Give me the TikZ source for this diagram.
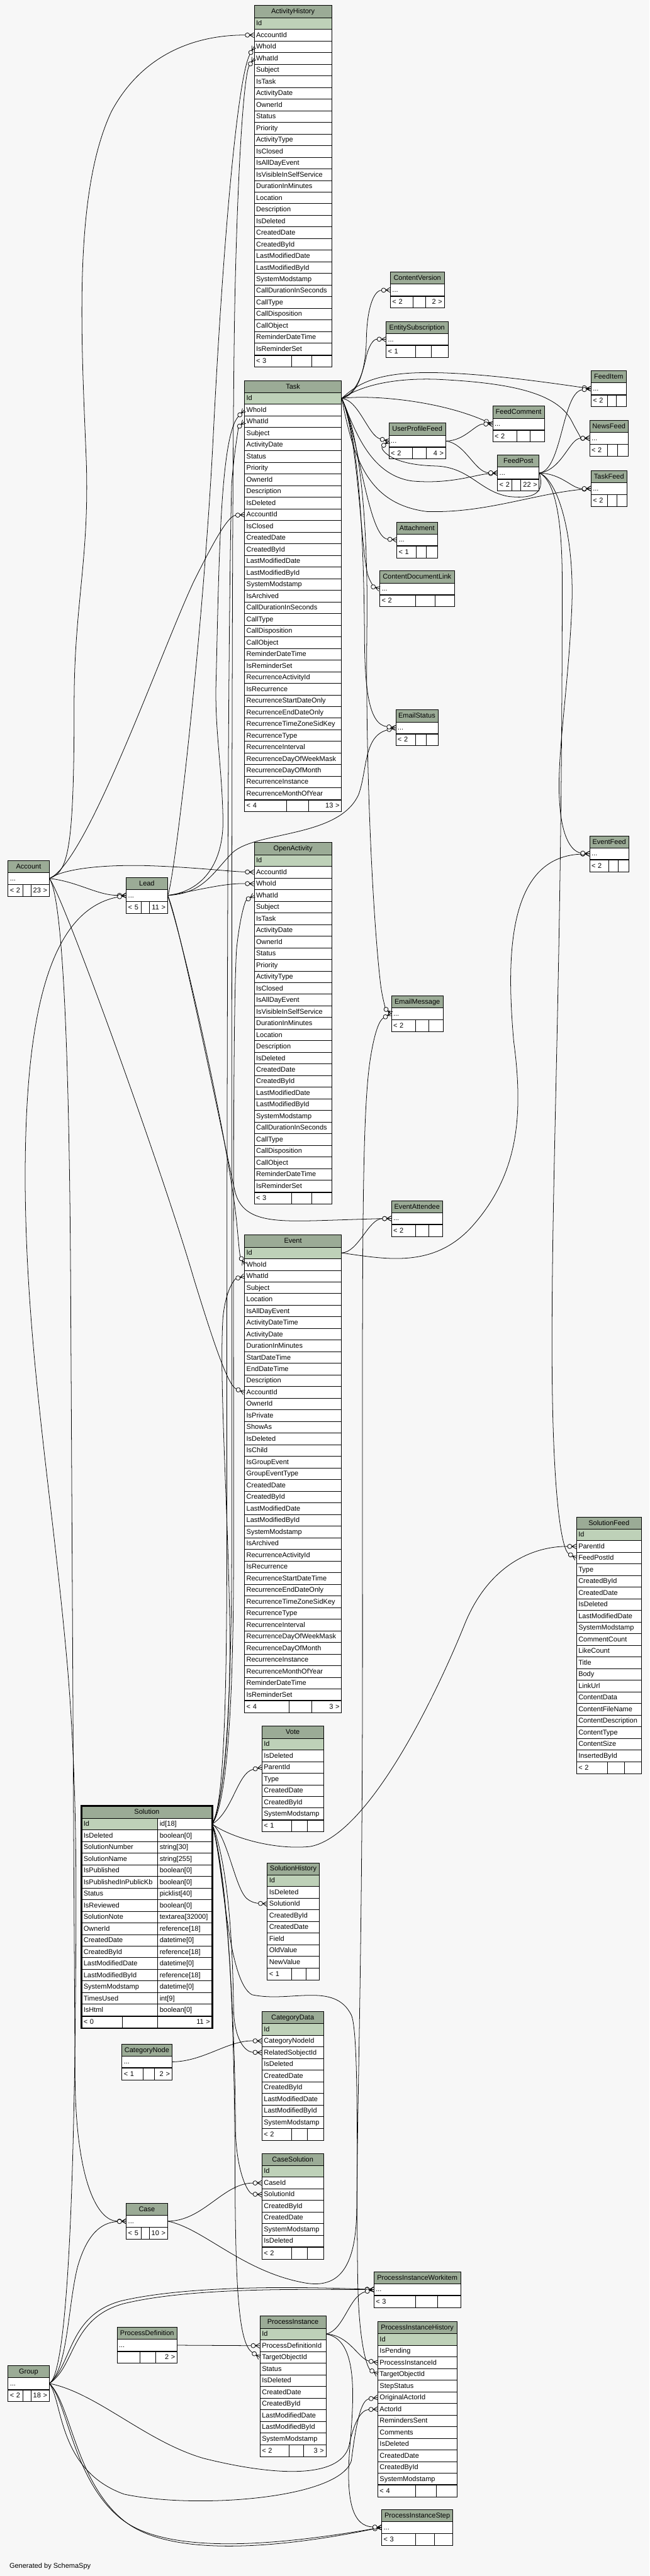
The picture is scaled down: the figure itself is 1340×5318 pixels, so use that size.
\documentclass[tikz,border=0pt]{standalone}
\usepackage{fontspec}
\setmainfont{Liberation Sans}
\usetikzlibrary{arrows.meta}

\definecolor{bgcol}{HTML}{F7F7F7}
\definecolor{headgreen}{HTML}{9BAB96}
\definecolor{pkgreen}{HTML}{BED1B8}

\newcommand{\tblfont}{\fontsize{14.3}{17}\selectfont}

% crow's foot with open circle (zero or many)
\pgfdeclarearrow{
  name = CrowDot,
  defaults = {length = 18pt, width = 10pt},
  parameters = {\the\pgfarrowlength,\the\pgfarrowwidth},
  setup code = {
    \pgfarrowssettipend{0pt}
    \pgfarrowssetlineend{-\pgfarrowlength}
    \pgfarrowssetvisualbackend{-\pgfarrowlength}
    \pgfarrowssetbackend{-\pgfarrowlength}
    \pgfarrowshullpoint{0pt}{.5\pgfarrowwidth}
    \pgfarrowshullpoint{0pt}{-.5\pgfarrowwidth}
    \pgfarrowshullpoint{-\pgfarrowlength}{.5\pgfarrowwidth}
    \pgfarrowshullpoint{-\pgfarrowlength}{-.5\pgfarrowwidth}
    \pgfarrowssavethe\pgfarrowlength
    \pgfarrowssavethe\pgfarrowwidth
  },
  drawing code = {
    \pgfsetdash{}{0pt}
    \pgfsetlinewidth{1pt}
    \pgfpathmoveto{\pgfqpoint{0pt}{.5\pgfarrowwidth}}
    \pgfpathlineto{\pgfqpoint{-.5\pgfarrowlength}{0pt}}
    \pgfpathlineto{\pgfqpoint{0pt}{-.5\pgfarrowwidth}}
    \pgfpathmoveto{\pgfqpoint{0pt}{0pt}}
    \pgfpathlineto{\pgfqpoint{-.5\pgfarrowlength}{0pt}}
    \pgfusepathqstroke
    \pgfpathcircle{\pgfqpoint{-.75\pgfarrowlength}{0pt}}{.25\pgfarrowlength}
    \pgfsetfillcolor{bgcol}
    \pgfusepathqfillstroke
  }
}

% footer row: name, width, divider 1, divider 2, left text, right text
\newcommand{\dbfoot}[6]{%
  \node[fieldcell, text width=#2pt] (#1-foot) at (#1-last.south west) {\makebox[\dimexpr\linewidth-4pt\relax][l]{#5\hfill#6\hspace*{4pt}}};
  \draw[line width=1pt] ([xshift=#3pt]#1-foot.north west) -- ([xshift=#3pt]#1-foot.south west);
  \draw[line width=1pt] ([xshift=#4pt]#1-foot.north west) -- ([xshift=#4pt]#1-foot.south west);
}
% full table: name, x, y, width, title, columns after Id
\newcommand{\dbtable}[6]{%
  \node[headcell, text width=#4pt] (#1) at (#2,#3) {#5};
  \node[pkcell, text width=#4pt, alias=#1-last] (#1-Id) at (#2,#3+25) {Id};
  \foreach \fld [count=\i] in {#6}
    \node[fieldcell, text width=#4pt, alias=#1-last] (#1-\fld) at (#2,#3+25+24*\i) {\fld};
}
% collapsed table: name, x, y, width, title, divider 1, divider 2, left, right
\newcommand{\dbsmall}[9]{%
  \node[headcell, text width=#4pt] (#1) at (#2,#3) {#5};
  \node[fieldcell, text width=#4pt, alias=#1-last] (#1-dots) at (#2,#3+25) {...};
  \dbfoot{#1}{#4}{#6}{#7}{#8}{#9}
}

\begin{document}
\begin{tikzpicture}[x=1pt,y=-1pt]
\tikzset{tblcell/.style = {draw, line width=1pt, fill=white, anchor=north west, inner xsep=0pt, inner ysep=0pt, minimum height=24pt, text height=11pt, text depth=2pt, font=\tblfont}}
\tikzset{headcell/.style = {tblcell, fill=headgreen, minimum height=25pt, align=center}}
\tikzset{fieldcell/.style = {tblcell, align=left, execute at begin node={\hspace*{4pt}}}}
\tikzset{pkcell/.style = {fieldcell, fill=pkgreen}}
\tikzset{fk/.style = {-{CrowDot}, line width=1pt}}

\fill[bgcol] (0,0) rectangle (1340,5318);
\useasboundingbox (0,0) rectangle (1340,5318);

% tables
\dbtable{ah}{524}{11}{160}{ActivityHistory}{AccountId,WhoId,WhatId,Subject,IsTask,ActivityDate,OwnerId,Status,Priority,ActivityType,IsClosed,IsAllDayEvent,IsVisibleInSelfService,DurationInMinutes,Location,Description,IsDeleted,CreatedDate,CreatedById,LastModifiedDate,LastModifiedById,SystemModstamp,CallDurationInSeconds,CallType,CallDisposition,CallObject,ReminderDateTime,IsReminderSet}
\dbfoot{ah}{160}{77}{119}{< 3}{}

\dbtable{task}{504}{785}{200}{Task}{WhoId,WhatId,Subject,ActivityDate,Status,Priority,OwnerId,Description,IsDeleted,AccountId,IsClosed,CreatedDate,CreatedById,LastModifiedDate,LastModifiedById,SystemModstamp,IsArchived,CallDurationInSeconds,CallType,CallDisposition,CallObject,ReminderDateTime,IsReminderSet,RecurrenceActivityId,IsRecurrence,RecurrenceStartDateOnly,RecurrenceEndDateOnly,RecurrenceTimeZoneSidKey,RecurrenceType,RecurrenceInterval,RecurrenceDayOfWeekMask,RecurrenceDayOfMonth,RecurrenceInstance,RecurrenceMonthOfYear}
\dbfoot{task}{200}{87}{133}{< 4}{13 >}

\dbtable{oa}{524}{1739}{160}{OpenActivity}{AccountId,WhoId,WhatId,Subject,IsTask,ActivityDate,OwnerId,Status,Priority,ActivityType,IsClosed,IsAllDayEvent,IsVisibleInSelfService,DurationInMinutes,Location,Description,IsDeleted,CreatedDate,CreatedById,LastModifiedDate,LastModifiedById,SystemModstamp,CallDurationInSeconds,CallType,CallDisposition,CallObject,ReminderDateTime,IsReminderSet}
\dbfoot{oa}{160}{77}{119}{< 3}{}

\dbtable{event}{504}{2549}{200}{Event}{WhoId,WhatId,Subject,Location,IsAllDayEvent,ActivityDateTime,ActivityDate,DurationInMinutes,StartDateTime,EndDateTime,Description,AccountId,OwnerId,IsPrivate,ShowAs,IsDeleted,IsChild,IsGroupEvent,GroupEventType,CreatedDate,CreatedById,LastModifiedDate,LastModifiedById,SystemModstamp,IsArchived,RecurrenceActivityId,IsRecurrence,RecurrenceStartDateTime,RecurrenceEndDateOnly,RecurrenceTimeZoneSidKey,RecurrenceType,RecurrenceInterval,RecurrenceDayOfWeekMask,RecurrenceDayOfMonth,RecurrenceInstance,RecurrenceMonthOfYear,ReminderDateTime,IsReminderSet}
\dbfoot{event}{200}{92}{139}{< 4}{3 >}

\dbtable{solutionfeed}{1189}{3131}{134}{SolutionFeed}{ParentId,FeedPostId,Type,CreatedById,CreatedDate,IsDeleted,LastModifiedDate,SystemModstamp,CommentCount,LikeCount,Title,Body,LinkUrl,ContentData,ContentFileName,ContentDescription,ContentType,ContentSize,InsertedById}
\dbfoot{solutionfeed}{134}{65}{100}{< 2}{}

\dbtable{vote}{540}{3563}{127}{Vote}{IsDeleted,ParentId,Type,CreatedDate,CreatedById,SystemModstamp}
\dbfoot{vote}{127}{61}{94}{< 1}{}

\dbtable{solutionhistory}{551}{3845}{107}{SolutionHistory}{IsDeleted,SolutionId,CreatedById,CreatedDate,Field,OldValue,NewValue}
\dbfoot{solutionhistory}{107}{51}{80}{< 1}{}

\dbtable{categorydata}{540}{4152}{127}{CategoryData}{CategoryNodeId,RelatedSobjectId,IsDeleted,CreatedDate,CreatedById,LastModifiedDate,LastModifiedById,SystemModstamp}
\dbfoot{categorydata}{127}{61}{94}{< 2}{}

\dbtable{casesolution}{540}{4445}{127}{CaseSolution}{CaseId,SolutionId,CreatedById,CreatedDate,SystemModstamp,IsDeleted}
\dbfoot{casesolution}{127}{61}{94}{< 2}{}

\dbtable{pi}{536}{4781}{136}{ProcessInstance}{ProcessDefinitionId,TargetObjectId,Status,IsDeleted,CreatedDate,CreatedById,LastModifiedDate,LastModifiedById,SystemModstamp}
\dbfoot{pi}{136}{60}{90}{< 2}{3 >}

\dbtable{pih}{779}{4792}{163}{ProcessInstanceHistory}{IsPending,ProcessInstanceId,TargetObjectId,StepStatus,OriginalActorId,ActorId,RemindersSent,Comments,IsDeleted,CreatedDate,CreatedById,SystemModstamp}
\dbfoot{pih}{163}{79}{121}{< 4}{}

% the focus table
\node[headcell, text width=269pt] (solution) at (168,3728) {Solution};
\node[pkcell, text width=157pt] (solution-Id) at (168,3753) {Id};
\node[fieldcell, text width=112pt] (solution-Id-t) at (325,3753) {id[18]};
\foreach \fld/\typ [count=\i] in {IsDeleted/boolean[0],SolutionNumber/string[30],SolutionName/string[255],IsPublished/boolean[0],IsPublishedInPublicKb/boolean[0],Status/picklist[40],IsReviewed/boolean[0],SolutionNote/textarea[32000],OwnerId/reference[18],CreatedDate/datetime[0],CreatedById/reference[18],LastModifiedDate/datetime[0],LastModifiedById/reference[18],SystemModstamp/datetime[0],TimesUsed/int[9],IsHtml/boolean[0]} {
  \node[fieldcell, text width=157pt, alias=solution-last] (solution-\fld) at (168,3753+24*\i) {\fld};
  \node[fieldcell, text width=112pt] (solution-\fld-t) at (325,3753+24*\i) {\typ};
}
\dbfoot{solution}{269}{85}{157}{< 0}{11 >}
\draw[line width=3pt] (solution.north west) rectangle (solution-foot.south east);

\dbsmall{contentversion}{805}{561}{111}{ContentVersion}{47}{73}{< 2}{2 >}
\dbsmall{entitysubscription}{796}{663}{128}{EntitySubscription}{61}{94}{< 1}{}
\dbsmall{feeditem}{1219}{765}{73}{FeedItem}{35}{53}{< 2}{}
\dbsmall{feedcomment}{1016}{838}{107}{FeedComment}{51}{78}{< 2}{}
\dbsmall{userprofilefeed}{802}{873}{117}{UserProfileFeed}{49}{77}{< 2}{4 >}
\dbsmall{newsfeed}{1216}{867}{80}{NewsFeed}{38}{58}{< 2}{}
\dbsmall{feedpost}{1026}{939}{86}{FeedPost}{30}{48}{< 2}{22 >}
\dbsmall{taskfeed}{1219}{971}{74}{TaskFeed}{35}{54}{< 2}{}
\dbsmall{attachment}{818}{1077}{84}{Attachment}{41}{62}{< 1}{}
\dbsmall{contentdocumentlink}{783}{1178}{154}{ContentDocumentLink}{74}{114}{< 2}{}
\dbsmall{emailstatus}{816}{1465}{87}{EmailStatus}{41}{64}{< 2}{}
\dbsmall{eventfeed}{1216}{1725}{81}{EventFeed}{40}{60}{< 2}{}
\dbsmall{account}{16}{1776}{85}{Account}{31}{48}{< 2}{23 >}
\dbsmall{lead}{260}{1811}{85}{Lead}{31}{48}{< 5}{11 >}
\dbsmall{emailmessage}{807}{2055}{107}{EmailMessage}{50}{78}{< 2}{}
\dbsmall{eventattendee}{807}{2478}{106}{EventAttendee}{50}{78}{< 2}{}
\dbsmall{categorynode}{251}{4219}{103}{CategoryNode}{44}{68}{< 1}{2 >}
\dbsmall{case}{260}{4548}{85}{Case}{31}{48}{< 5}{10 >}
\dbsmall{piw}{771}{4689}{179}{ProcessInstanceWorkitem}{87}{132}{< 3}{}
\dbsmall{processdefinition}{241}{4804}{124}{ProcessDefinition}{48}{80}{}{2 >}
\dbsmall{group}{16}{4883}{85}{Group}{31}{48}{< 2}{18 >}
\dbsmall{pis}{787}{5180}{147}{ProcessInstanceStep}{71}{109}{< 3}{}

\node[anchor=west, font=\tblfont] (credit) at (16,5298) {Generated by SchemaSpy};

% edges from Account
\draw[fk] (account-dots.east) .. controls (140,1800) and (153,1760) .. (153,1450) .. controls (153,1250) and (185,1150) .. (178,950) .. controls (168,700) and (150,400) .. (230,230) .. controls (300,100) and (420,72) .. (ah-AccountId.west);
\draw[fk] (account-dots.east) .. controls (180,1780) and (330,1350) .. (400,1200) .. controls (440,1120) and (470,1065) .. (task-AccountId.west);
\draw[fk] (account-dots.east) .. controls (130,1795) and (200,1785) .. (300,1787) .. controls (400,1790) and (470,1799) .. (oa-AccountId.west);
\draw[fk] (account-dots.east) .. controls (160,1820) and (200,1848) .. (lead-dots.west);
\draw[fk] (account-dots.east) .. controls (130,1850) and (330,2400) .. (400,2640) .. controls (440,2770) and (470,2860) .. (event-AccountId.west);
\draw[fk] (account-dots.east) .. controls (120,1840) and (143,2000) .. (146,2700) .. controls (150,3400) and (153,4000) .. (155,4300) .. controls (158,4500) and (200,4585) .. (case-dots.west);

% edges from Lead
\draw[fk] (lead-dots.east) .. controls (360,1820) and (420,1300) .. (440,900) .. controls (460,500) and (490,160) .. (ah-WhoId.west);
\draw[fk] (lead-dots.east) .. controls (420,1840) and (462,1780) .. (460,1690) .. controls (458,1580) and (442,1500) .. (446,1400) .. controls (452,1150) and (455,900) .. (task-WhoId.west);
\draw[fk] (lead-dots.east) .. controls (400,1840) and (460,1823) .. (oa-WhoId.west);
\draw[fk] (lead-dots.east) .. controls (420,1845) and (440,1800) .. (480,1760) .. controls (530,1715) and (700,1730) .. (740,1640) .. controls (758,1590) and (750,1520) .. (emailstatus-dots.west);
\draw[fk] (lead-dots.east) .. controls (370,1900) and (460,2350) .. (485,2460) .. controls (500,2520) and (560,2522) .. (650,2520) .. controls (720,2518) and (770,2516) .. (eventattendee-dots.west);
\draw[fk] (lead-dots.east) .. controls (380,1950) and (470,2350) .. (488,2520) .. controls (492,2560) and (494,2590) .. (event-WhoId.west);

% edges from Group
\draw[fk] (group-dots.east) .. controls (135,4900) and (150,4600) .. (155,4200) .. controls (158,3900) and (160,3700) .. (140,3450) .. controls (110,3100) and (55,2800) .. (52,2450) .. controls (50,2100) and (100,1880) .. (lead-dots.west);
\draw[fk] (group-dots.east) .. controls (140,4890) and (140,4760) .. (160,4680) .. controls (180,4610) and (210,4588) .. (case-dots.west);
\draw[fk] (group-dots.east) .. controls (150,4880) and (140,4780) .. (250,4750) .. controls (400,4715) and (650,4722) .. (piw-dots.west);
\draw[fk] (group-dots.east) .. controls (156,4884) and (146,4786) .. (254,4756) .. controls (400,4720) and (650,4727) .. (piw-dots.west);
\draw[fk] (group-dots.east) .. controls (130,4960) and (120,5100) .. (256,5149) .. controls (400,5180) and (700,5160) .. (725,5080) .. controls (735,5000) and (745,4955) .. (pih-OriginalActorId.west);
\draw[fk] (group-dots.east) .. controls (200,4940) and (300,5040) .. (420,5075) .. controls (560,5110) and (700,5120) .. (720,5050) .. controls (730,5000) and (745,4975) .. (pih-ActorId.west);
\draw[fk] (group-dots.east) .. controls (140,4960) and (150,5120) .. (250,5200) .. controls (350,5280) and (600,5250) .. (pis-dots.west);
\draw[fk] (group-dots.east) .. controls (146,4962) and (156,5124) .. (256,5204) .. controls (356,5285) and (600,5256) .. (pis-dots.west);

% edges from Solution
\draw[fk] (solution-Id-t.east) .. controls (465,3720) and (478,3500) .. (478,3200) .. controls (478,2000) and (478,900) .. (485,600) .. controls (492,300) and (505,150) .. (ah-WhatId.west);
\draw[fk] (solution-Id-t.east) .. controls (462,3730) and (468,3500) .. (468,3200) .. controls (468,2200) and (470,1300) .. (478,1000) .. controls (484,920) and (494,880) .. (task-WhatId.west);
\draw[fk] (solution-Id-t.east) .. controls (470,3720) and (482,3500) .. (482,3200) .. controls (482,2600) and (480,2100) .. (488,1960) .. controls (494,1900) and (505,1860) .. (oa-WhatId.west);
\draw[fk] (solution-Id-t.east) .. controls (468,3700) and (476,3500) .. (474,3350) .. controls (470,3100) and (452,2850) .. (460,2720) .. controls (466,2660) and (485,2640) .. (event-WhatId.west);
\draw[fk] (solution-Id-t.east) .. controls (480,3740) and (490,3660) .. (vote-ParentId.west);
\draw[fk] (solution-Id-t.east) .. controls (470,3790) and (560,3820) .. (640,3812) .. controls (760,3790) and (900,3500) .. (960,3350) .. controls (1010,3230) and (1100,3192) .. (solutionfeed-ParentId.west);
\draw[fk] (solution-Id-t.east) .. controls (470,3790) and (485,3900) .. (510,3920) .. controls (520,3928) and (530,3929) .. (solutionhistory-SolutionId.west);
\draw[fk] (solution-Id-t.east) .. controls (470,3850) and (480,4000) .. (482,4150) .. controls (484,4210) and (505,4236) .. (categorydata-RelatedSobjectId.west);
\draw[fk] (solution-Id-t.east) .. controls (472,3900) and (485,4200) .. (486,4400) .. controls (488,4480) and (510,4529) .. (casesolution-SolutionId.west);
\draw[fk] (solution-Id-t.east) .. controls (475,3900) and (484,4200) .. (485,4500) .. controls (486,4750) and (495,4840) .. (pi-TargetObjectId.west);
\draw[fk] (solution-Id-t.east) .. controls (462,3850) and (468,4090) .. (520,4118) .. controls (600,4135) and (690,4090) .. (725,4160) .. controls (742,4200) and (735,4500) .. (738,4700) .. controls (740,4850) and (760,4890) .. (pih-TargetObjectId.west);

% edges from Case, ProcessInstance, ProcessDefinition, CategoryNode
\draw[fk] (case-dots.east) .. controls (420,4585) and (460,4507) .. (casesolution-CaseId.west);
\draw[fk] (case-dots.east) .. controls (420,4600) and (500,4690) .. (630,4713) .. controls (700,4725) and (735,4680) .. (736,4560) .. controls (738,4300) and (748,4000) .. (748,3400) .. controls (748,2600) and (745,2300) .. (765,2180) .. controls (775,2120) and (785,2105) .. (emailmessage-dots.west);
\draw[fk] (pi-Id.east) .. controls (710,4810) and (720,4740) .. (piw-dots.west);
\draw[fk] (pi-Id.east) .. controls (720,4820) and (740,4870) .. (pih-ProcessInstanceId.west);
\draw[fk] (pi-Id.east) .. controls (740,4830) and (730,4950) .. (722,5050) .. controls (712,5170) and (730,5215) .. (pis-dots.west);
\draw[fk] (processdefinition-dots.east) -- (pi-ProcessDefinitionId.west);
\draw[fk] (categorynode-dots.east) .. controls (420,4256) and (470,4212) .. (categorydata-CategoryNodeId.west);

% edges from Event
\draw[fk] (event-Id.east) .. controls (740,2585) and (760,2516) .. (eventattendee-dots.west);
\draw[fk] (event-Id.east) .. controls (800,2600) and (900,2620) .. (980,2525) .. controls (1070,2420) and (1080,2300) .. (1060,2150) .. controls (1045,1980) and (1045,1770) .. (eventfeed-dots.west);

% edges from Task
\draw[fk] (task-Id.east) .. controls (740,815) and (755,760) .. (756,700) .. controls (757,640) and (770,600) .. (contentversion-dots.west);
\draw[fk] (task-Id.east) .. controls (740,810) and (750,760) .. (755,740) .. controls (760,715) and (770,700) .. (entitysubscription-dots.west);
\draw[fk] (task-Id.east) .. controls (730,800) and (760,775) .. (850,770) .. controls (950,765) and (1100,785) .. (feeditem-dots.west);
\draw[fk] (task-Id.east) .. controls (740,800) and (800,780) .. (900,783) .. controls (1050,790) and (1150,810) .. (1180,870) .. controls (1190,890) and (1200,905) .. (newsfeed-dots.west);
\draw[fk] (task-Id.east) .. controls (760,815) and (900,825) .. (feedcomment-dots.west);
\draw[fk] (task-Id.east) .. controls (740,825) and (760,900) .. (userprofilefeed-dots.west);
\draw[fk] (task-Id.east) .. controls (730,880) and (760,980) .. (850,993) .. controls (930,1000) and (980,980) .. (feedpost-dots.west);
\draw[fk] (task-Id.east) .. controls (730,950) and (760,1040) .. (880,1056) .. controls (1000,1060) and (1100,1020) .. (taskfeed-dots.west);
\draw[fk] (task-Id.east) .. controls (740,900) and (760,1110) .. (attachment-dots.west);
\draw[fk] (task-Id.east) .. controls (740,900) and (745,1150) .. (760,1190) .. controls (765,1205) and (775,1213) .. (contentdocumentlink-dots.west);
\draw[fk] (task-Id.east) .. controls (740,900) and (750,1100) .. (752,1300) .. controls (752,1420) and (760,1495) .. (emailstatus-dots.west);
\draw[fk] (task-Id.east) .. controls (745,900) and (760,1100) .. (757,1300) .. controls (754,1600) and (770,1900) .. (785,2030) .. controls (790,2070) and (798,2085) .. (emailmessage-dots.west);

% edges from UserProfileFeed and FeedPost
\draw[fk] (userprofilefeed-dots.east) .. controls (960,910) and (980,875) .. (feedcomment-dots.west);
\draw[fk] (userprofilefeed-dots.east) .. controls (960,915) and (980,975) .. (feedpost-dots.west);
\draw[fk] (feedpost-dots.east) .. controls (1160,970) and (1160,810) .. (feeditem-dots.west);
\draw[fk] (feedpost-dots.east) .. controls (1160,970) and (1175,905) .. (newsfeed-dots.west);
\draw[fk] (feedpost-dots.east) .. controls (1160,978) and (1180,1009) .. (taskfeed-dots.west);
\draw[fk] (feedpost-dots.east) .. controls (1125,1020) and (1100,1030) .. (1050,1025) .. controls (990,1015) and (970,965) .. (900,962) .. controls (800,960) and (785,925) .. (userprofilefeed-dots.west);
\draw[fk] (feedpost-dots.east) .. controls (1150,990) and (1185,1100) .. (1180,1250) .. controls (1172,1450) and (1140,1600) .. (1160,1700) .. controls (1170,1750) and (1190,1760) .. (eventfeed-dots.west);
\draw[fk] (feedpost-dots.east) .. controls (1140,990) and (1160,1050) .. (1160,1200) .. controls (1160,2000) and (1138,2400) .. (1139,2800) .. controls (1140,3100) and (1160,3200) .. (solutionfeed-FeedPostId.west);
\end{tikzpicture}
\end{document}
